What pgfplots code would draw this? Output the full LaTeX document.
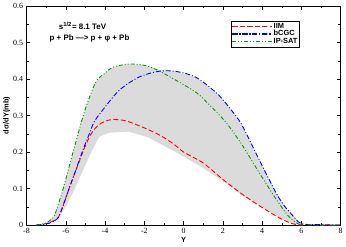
\documentclass[border=0pt]{standalone}
\usepackage{fontspec}
\setmainfont{Liberation Serif}
\newfontfamily\hv{Liberation Sans}
\usepackage{pgfplots}
\pgfplotsset{compat=1.18}
\definecolor{gband}{gray}{0.86}
\definecolor{myg}{rgb}{0,0.6,0}
\definecolor{myb}{rgb}{0,0,1}
\definecolor{myr}{rgb}{1,0,0}
\begin{document}
\begin{tikzpicture}
\begin{axis}[
  scale only axis, width=317pt, height=221pt,
  xmin=-8, xmax=8, ymin=0, ymax=0.6,
  xtick={-8,-6,-4,-2,0,2,4,6,8}, minor xtick={-7,-5,-3,-1,1,3,5,7},
  ytick={0,0.1,0.2,0.3,0.4,0.5,0.6},
  minor ytick={0.05,0.15,0.25,0.35,0.45,0.55},
  tick align=inside,
  xticklabel pos=left, yticklabel pos=left,
  xtick pos=both, ytick pos=both,
  major tick length=4pt, minor tick length=2.5pt,
  every tick/.style={black, line width=0.5pt},
  axis line style={line width=0.7pt},
  /pgf/number format/assume math mode=true,
  yticklabel style={/pgf/number format/fixed},
  tick label style={font=\fontsize{8}{9}\selectfont},
  xlabel={\hv\bfseries Y},
  ylabel={\hv\bfseries dσ/dY(mb)},
  label style={font=\fontsize{7.5}{9}\selectfont},
  xlabel style={yshift=3pt},
  ylabel style={yshift=-4pt},
  legend style={at={(0.65,0.933)}, anchor=north west,
    font=\hv\bfseries\fontsize{7.5}{9}\selectfont, inner xsep=1pt, inner ysep=1pt,
    row sep=-1.5pt, nodes={inner sep=1.2pt}},
  legend cell align=left,
  legend image code/.code={\draw[mark repeat=2,mark phase=2] plot coordinates {(0cm,0cm) (0.7cm,0cm) (1.4cm,0cm)};},
  every legend image post/.style={line width=1.1pt},
]
\addplot[fill=gband, draw=none, forget plot] coordinates {
(-7.5,0) (-7,0.006) (-6.63,0.021) (-6.49,0.039) (-6.13,0.1) (-5.63,0.2) (-5.2,0.283) (-4.96,0.325) (-4.46,0.393) (-4,0.416) (-3.62,0.432) (-2.79,0.441) (-1.95,0.437) (-1.28,0.425) (-0.4,0.421) (0.62,0.405) (1.63,0.364) (2.05,0.34) (2.5,0.31) (2.97,0.274) (3.81,0.183) (4.66,0.093) (5.07,0.057) (5.49,0.03) (6,0.004)
(6,0) (5.6,0.003) (5,0.016) (4,0.048) (3,0.08) (2,0.12) (1,0.156) (0,0.188) (-1.24,0.224) (-1.8,0.24) (-2.79,0.256) (-3.79,0.253) (-4.29,0.242) (-4.7,0.2) (-5.54,0.1) (-6,0.05) (-6.5,0.012) (-7,0.002) (-7.5,0)
};
\addplot[color=myr, line width=0.9pt, dash pattern=on 5pt off 2.5pt, smooth] coordinates {
(-7.5,0) (-7,0.004) (-6.7,0.01) (-6.38,0.021) (-6.12,0.057) (-5.83,0.1) (-5.48,0.15) (-5.13,0.2) (-4.79,0.242) (-4.5,0.265) (-4.2,0.279) (-3.9,0.286) (-3.62,0.289) (-3.2,0.288) (-2.79,0.283) (-1.95,0.265) (-1.24,0.247) (-0.5,0.222) (0,0.2) (1,0.17) (2,0.125) (3,0.084) (4,0.048) (5,0.016) (5.6,0.003) (6,0.0005) (7,0) (8,0)
};
\addlegendentry{IIM}
\addplot[color=myb, line width=0.9pt, dash pattern=on 5pt off 2pt on 1pt off 2pt, smooth] coordinates {
(-7.5,0) (-7,0.003) (-6.7,0.008) (-6.38,0.02) (-6.12,0.055) (-5.83,0.1) (-5.48,0.152) (-5.13,0.205) (-4.8,0.25) (-4.55,0.283) (-4.12,0.315) (-3.28,0.369) (-2.28,0.405) (-1.28,0.421) (-0.4,0.421) (0.62,0.405) (1.63,0.364) (2.05,0.34) (2.5,0.31) (2.97,0.274) (3.81,0.183) (4.66,0.093) (5.07,0.057) (5.49,0.03) (6,0.004) (7,0.001) (8,0)
};
\addlegendentry{bCGC}
\addplot[color=myg, line width=0.9pt, dash pattern=on 4pt off 2pt on 1pt off 2pt on 1pt off 2pt, smooth] coordinates {
(-7.5,0) (-7,0.006) (-6.63,0.021) (-6.49,0.039) (-6.13,0.1) (-5.63,0.2) (-5.2,0.283) (-4.96,0.325) (-4.46,0.393) (-4,0.416) (-3.62,0.432) (-2.79,0.441) (-1.95,0.437) (-1.28,0.423) (-0.5,0.4) (0.62,0.364) (1.2,0.335) (2.13,0.283) (2.97,0.22) (3.81,0.147) (4.66,0.075) (5.33,0.025) (5.75,0.006) (6,0.002) (7,0) (8,0)
};
\addlegendentry{IP-SAT}
\node[font=\hv\bfseries\fontsize{8}{9}\selectfont] at (axis cs:-5.15,0.546) {s\textsuperscript{1/2}= 8.1 TeV};
\node[font=\hv\bfseries\fontsize{8}{9}\selectfont] at (axis cs:-4.79,0.512) {p + Pb —> p + φ + Pb};
\end{axis}
\end{tikzpicture}
\end{document}
